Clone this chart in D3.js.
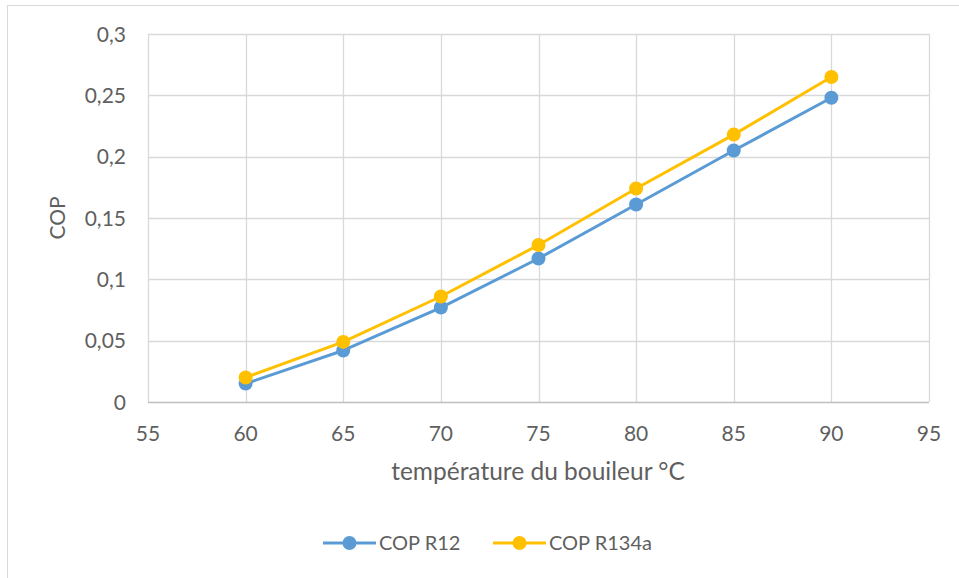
<!DOCTYPE html>
<html>
<head>
<meta charset="utf-8">
<script src="https://cdn.jsdelivr.net/npm/d3@7"></script>
<style>
  body { margin: 0; background: #fff; }
  text { font-family: Lato, "Open Sans", sans-serif; fill: #5f5f5f; }
</style>
</head>
<body>
<svg id="chart" width="959" height="578"></svg>
<script>
var w = 959;
var h = 578;

// data
var temps = [60, 65, 70, 75, 80, 85, 90];
var copR12 = [0.015, 0.042, 0.077, 0.117, 0.161, 0.205, 0.248];
var copR134a = [0.020, 0.049, 0.086, 0.128, 0.174, 0.218, 0.265];
var xTicks = [55, 60, 65, 70, 75, 80, 85, 90, 95];
var yTicks = [0, 0.05, 0.1, 0.15, 0.2, 0.25, 0.3];
var seriesNames = ["COP R12", "COP R134a"];
var colors = ["#5b9bd5", "#ffc000"];

var margin = {left: 148, right: 30, top: 34, bottom: 176};

var x = d3.scaleLinear().domain([55, 95]).range([margin.left, w - margin.right]);
var y = d3.scaleLinear().domain([0, 0.3]).range([h - margin.bottom, margin.top]);

var svg = d3.select('#chart');

// outer chart border
svg.append('rect')
  .attr('x', 7.5).attr('y', 5.5)
  .attr('width', 970).attr('height', 600)
  .attr('fill', 'none')
  .attr('stroke', '#d9d9d9');

var fmt = function(d){ return String(d).replace('.', ','); };

// gridlines
svg.append('g').selectAll('line.v')
  .data(xTicks)
  .enter().append('line')
  .attr('x1', function(d){ return Math.round(x(d)) + 0.5; })
  .attr('x2', function(d){ return Math.round(x(d)) + 0.5; })
  .attr('y1', y(0.3)).attr('y2', y(0))
  .attr('stroke', '#d9d9d9').attr('stroke-width', 1.3);

svg.append('g').selectAll('line.h')
  .data(yTicks)
  .enter().append('line')
  .attr('x1', x(55)).attr('x2', x(95))
  .attr('y1', function(d){ return Math.round(y(d)) + 0.5; })
  .attr('y2', function(d){ return Math.round(y(d)) + 0.5; })
  .attr('stroke', function(d){ return d == 0 ? '#bfbfbf' : '#d9d9d9'; })
  .attr('stroke-width', function(d){ return d == 0 ? 1.6 : 1.3; });

// tick labels
svg.append('g').selectAll('text')
  .data(yTicks)
  .enter().append('text')
  .attr('x', 126)
  .attr('y', function(d){ return y(d); })
  .attr('dy', '0.36em')
  .attr('text-anchor', 'end')
  .attr('font-size', '21px')
  .text(fmt);

svg.append('g').selectAll('text')
  .data(xTicks)
  .enter().append('text')
  .attr('x', function(d){ return x(d); })
  .attr('y', 441)
  .attr('text-anchor', 'middle')
  .attr('font-size', '21px')
  .text(fmt);

// axis titles
svg.append('text')
  .attr('x', 538).attr('y', 480)
  .attr('text-anchor', 'middle')
  .attr('font-size', '24.5px')
  .text('température du bouileur °C');

svg.append('text')
  .attr('transform', 'translate(65,' + ((y(0) + y(0.3)) / 2) + ') rotate(-90)')
  .attr('text-anchor', 'middle')
  .attr('font-size', '21px')
  .text('COP');

// series
var series = [copR12, copR134a];
var line = d3.line()
  .x(function(d, i){ return x(temps[i]); })
  .y(function(d){ return y(d); });

series.forEach(function(vals, k){
  svg.append('path')
    .datum(vals)
    .attr('d', line)
    .attr('fill', 'none')
    .attr('stroke', colors[k])
    .attr('stroke-width', 3)
    .attr('stroke-linejoin', 'round');

  svg.append('g').selectAll('circle')
    .data(vals)
    .enter().append('circle')
    .attr('cx', function(d, i){ return x(temps[i]); })
    .attr('cy', function(d){ return y(d); })
    .attr('r', 7)
    .attr('fill', colors[k]);
});

// legend
var legendX = [323, 493];
seriesNames.forEach(function(name, k){
  var g = svg.append('g').attr('transform', 'translate(' + legendX[k] + ',543)');
  g.append('line')
    .attr('x1', 0).attr('x2', 53)
    .attr('stroke', colors[k]).attr('stroke-width', 3);
  g.append('circle')
    .attr('cx', 26.5).attr('r', 7)
    .attr('fill', colors[k]);
  g.append('text')
    .attr('x', 56).attr('dy', '0.36em')
    .attr('font-size', '20px')
    .text(name);
});
</script>
</body>
</html>
